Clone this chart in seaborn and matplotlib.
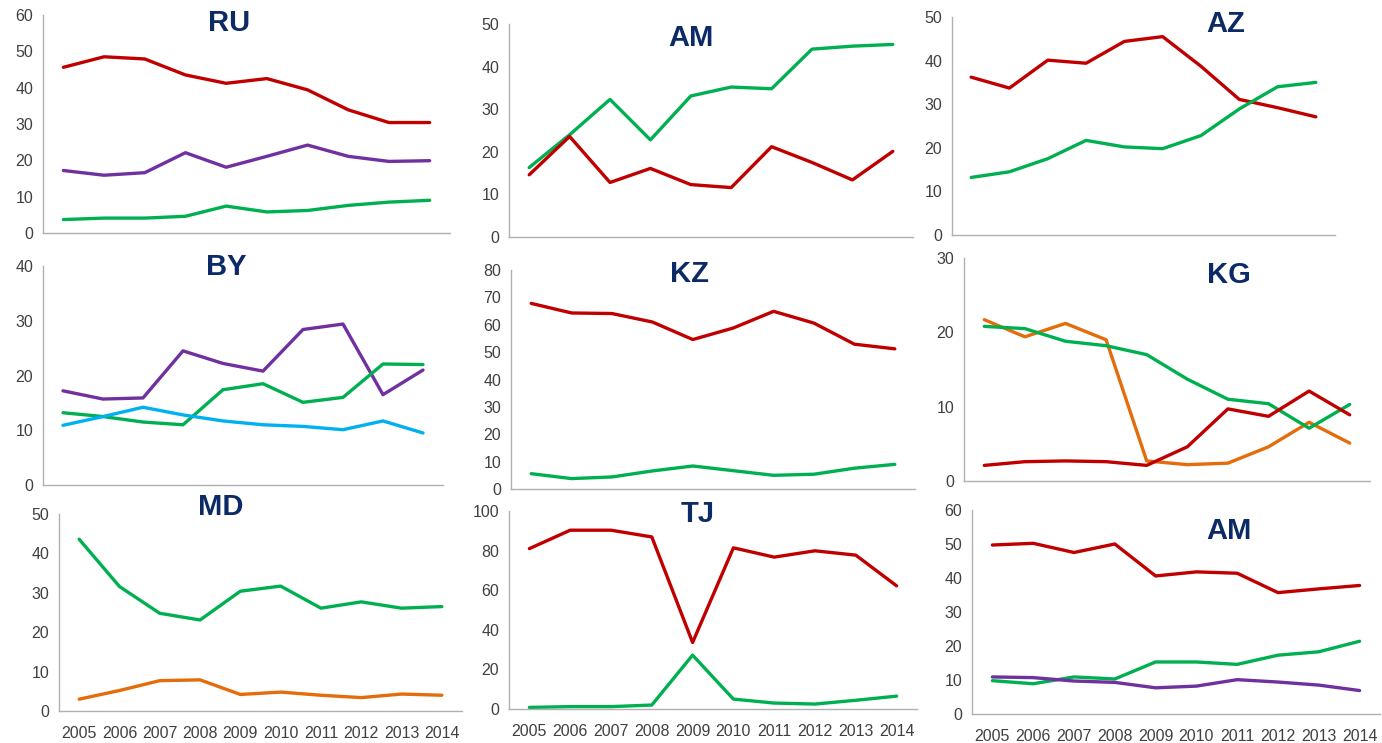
import numpy as np
import pandas as pd
import matplotlib
matplotlib.use("Agg")
import matplotlib.pyplot as plt
import seaborn as sns

years = [2005, 2006, 2007, 2008, 2009, 2010, 2011, 2012, 2013, 2014]

ru_red = [45.6, 48.5, 47.9, 43.5, 41.2, 42.5, 39.4, 33.9, 30.4, 30.4]
ru_purple = [17.2, 15.9, 16.6, 22.1, 18.1, 21.1, 24.2, 21.1, 19.7, 19.9]
ru_green = [3.7, 4.1, 4.1, 4.6, 7.4, 5.8, 6.2, 7.6, 8.5, 9.0]

am_green = [16.3, 24.0, 32.3, 22.8, 33.1, 35.2, 34.8, 44.1, 44.8, 45.2]
am_red = [14.6, 23.6, 12.8, 16.1, 12.3, 11.6, 21.2, 17.5, 13.4, 20.1]

az_red = [36.2, 33.7, 40.1, 39.4, 44.4, 45.5, 38.7, 31.1, 29.2, 27.1]
az_green = [13.2, 14.5, 17.5, 21.7, 20.2, 19.8, 22.8, 28.9, 34.0, 35.0]

by_purple = [17.2, 15.7, 15.9, 24.5, 22.2, 20.8, 28.4, 29.4, 16.5, 21.0]
by_green = [13.2, 12.5, 11.5, 11.0, 17.4, 18.5, 15.1, 16.0, 22.1, 22.0]
by_blue = [10.9, 12.5, 14.2, 12.8, 11.7, 11.0, 10.7, 10.1, 11.7, 9.5]

kz_red = [67.8, 64.3, 64.1, 61.0, 54.6, 58.8, 64.9, 60.6, 52.9, 51.2]
kz_green = [5.6, 3.8, 4.4, 6.6, 8.4, 6.7, 5.0, 5.4, 7.6, 9.0]

kg_orange = [21.7, 19.4, 21.2, 19.0, 2.7, 2.2, 2.4, 4.6, 7.9, 5.1]
kg_green = [20.8, 20.5, 18.8, 18.2, 17.0, 13.7, 11.0, 10.4, 7.1, 10.3]
kg_red = [2.1, 2.6, 2.7, 2.6, 2.1, 4.6, 9.7, 8.7, 12.1, 8.9]

md_green = [43.6, 31.6, 24.8, 23.1, 30.4, 31.7, 26.1, 27.7, 26.1, 26.5]
md_orange = [3.0, 5.2, 7.7, 7.9, 4.2, 4.8, 4.0, 3.4, 4.3, 4.0]

tj_red = [81.0, 90.3, 90.3, 86.9, 33.6, 81.4, 76.7, 79.9, 77.7, 62.2]
tj_green = [0.8, 1.2, 1.2, 2.0, 27.2, 5.0, 3.0, 2.5, 4.4, 6.5]

am2_red = [49.7, 50.2, 47.5, 50.0, 40.6, 41.8, 41.4, 35.7, 36.8, 37.8]
am2_green = [9.8, 8.9, 10.9, 10.3, 15.3, 15.3, 14.6, 17.3, 18.3, 21.4]
am2_purple = [10.9, 10.7, 9.7, 9.3, 7.7, 8.2, 10.1, 9.4, 8.5, 6.9]

COLORS = {"red": "#c00000", "green": "#00b050", "purple": "#7030a0",
          "blue": "#00b0f0", "orange": "#e46c0a"}

# title, series dict, ymax, ystep, rect in pixels (L, R, T, B), title pos (x, y), show x labels
panels = [
    ("RU", {"red": ru_red, "purple": ru_purple, "green": ru_green}, 60, 10, (43, 450, 15, 233), (229, 23), False),
    ("AM", {"green": am_green, "red": am_red}, 50, 10, (509, 913, 24, 237), (691, 38), False),
    ("AZ", {"red": az_red, "green": az_green}, 50, 10, (952, 1335, 17, 235), (1226, 24), False),
    ("BY", {"purple": by_purple, "green": by_green, "blue": by_blue}, 40, 10, (43, 443, 266, 485), (226, 267), False),
    ("KZ", {"red": kz_red, "green": kz_green}, 80, 10, (511, 915, 270, 489), (690, 274), False),
    ("KG", {"orange": kg_orange, "green": kg_green, "red": kg_red}, 30, 10, (964, 1370, 258, 481), (1229, 275), False),
    ("MD", {"green": md_green, "orange": md_orange}, 50, 10, (59, 462, 514, 711), (221, 507), True),
    ("TJ", {"red": tj_red, "green": tj_green}, 100, 20, (509, 917, 511, 709), (698, 514), True),
    ("AM", {"red": am2_red, "green": am2_green, "purple": am2_purple}, 60, 10, (972, 1380, 510, 714), (1229, 531), True),
]

sns.set_style("white")
plt.rcParams["font.family"] = ["Liberation Sans", "DejaVu Sans"]

W, H = 1382, 743
fig = plt.figure(figsize=(W / 100, H / 100), dpi=100)

for title, series, ymax, ystep, (L, R, T, B), (tx, ty), showx in panels:
    ax = fig.add_axes([L / W, 1 - B / H, (R - L) / W, (B - T) / H])
    rows = []
    for name, vals in series.items():
        for yr, v in zip(years, vals):
            rows.append({"year": yr, "value": v, "series": name})
    df = pd.DataFrame(rows)
    sns.lineplot(data=df, x="year", y="value", hue="series",
                 palette={k: COLORS[k] for k in series}, hue_order=list(series.keys()),
                 linewidth=2.4, legend=False, ax=ax)
    ax.set_xlim(years[0] - 0.5, years[-1] + 0.5)
    ax.set_ylim(0, ymax)
    ax.set_yticks(np.arange(0, ymax + 0.1, ystep))
    ax.set_xlabel("")
    ax.set_ylabel("")
    for s in ["top", "right"]:
        ax.spines[s].set_visible(False)
    for s in ["left", "bottom"]:
        ax.spines[s].set_color("#b0b0b0")
        ax.spines[s].set_linewidth(1.0)
    ax.tick_params(axis="y", length=0, pad=7, labelsize=11.5, labelcolor="#404040")
    if showx:
        ax.set_xticks(years)
        ax.set_xticklabels([str(y) for y in years])
        ax.set_xticks(np.arange(years[0] - 0.5, years[-1] + 0.6, 1.0), minor=True)
        ax.tick_params(axis="x", which="major", length=0, pad=11, labelsize=11.5, labelcolor="#404040")
        ax.tick_params(axis="x", which="minor", length=5, width=1, color="#b0b0b0", direction="out")
    else:
        ax.set_xticks([])
    ax.patch.set_alpha(0)
    fig.text(tx / W, 1 - ty / H, title, ha="center", va="center",
             fontsize=21, fontweight="bold", color="#0b2a66")

fig.savefig("out.png", dpi=100)
